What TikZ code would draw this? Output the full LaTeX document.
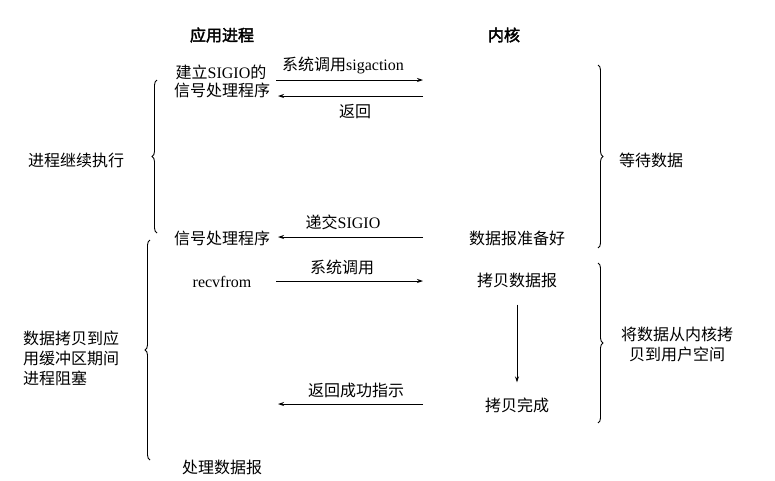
\documentclass[tikz,border=0pt]{standalone}
\usepackage{fontspec}
\setmainfont{Noto Sans CJK SC}[AutoFakeBold=2.5]
\newfontfamily\lat{Liberation Serif}
\usetikzlibrary{arrows.meta,decorations.pathreplacing}

\begin{document}
\begin{tikzpicture}[x=1pt,y=-1pt,
    every node/.style={font=\fontsize{16}{20}\selectfont,inner sep=0pt},
    arr/.style={line width=0.8pt,-{Stealth[length=6pt,width=4pt]}},
    brc/.style={line width=0.9pt,decorate,decoration={brace,amplitude=5pt}}]
    \useasboundingbox (0,0) rectangle (775,480);
    \node[font=\fontsize{16}{20}\selectfont\bfseries] (app) at (222,35) {应用进程};
    \node[font=\fontsize{16}{20}\selectfont\bfseries] (kern) at (504,35) {内核};
    \node (setup) at (221,72) {建立{\lat SIGIO}的};
    \node (handler) at (222,90) {信号处理程序};
    \node (sig) at (222,238) {信号处理程序};
    \node (ready) at (517,238) {数据报准备好};
    \node (recv) at (222,282) {\lat recvfrom};
    \node (copy) at (517,280) {拷贝数据报};
    \node (done) at (517,405) {拷贝完成};
    \node (proc) at (222,467) {处理数据报};
    \node (cont) at (76,160) {进程继续执行};
    \node (wait) at (651,160) {等待数据};
    \node[anchor=west,align=left] (block) at (23,358) {数据拷贝到应\\用缓冲区期间\\进程阻塞};
    \node[align=center] (move) at (677,344) {将数据从内核拷\\贝到用户空间};
    \coordinate (call_1) at (276,80);
    \coordinate (call_2) at (423,80);
    \coordinate (ret_1) at (423,96);
    \coordinate (ret_2) at (278,96);
    \coordinate (sigio_1) at (423,237);
    \coordinate (sigio_2) at (278,237);
    \coordinate (recv_1) at (276,281);
    \coordinate (recv_2) at (423,281);
    \coordinate (ok_1) at (423,404);
    \coordinate (ok_2) at (278,404);
    \draw[arr] (call_1) -- (call_2);
    \draw[arr] (ret_1) -- (ret_2);
    \draw[arr] (sigio_1) -- (sigio_2);
    \draw[arr] (recv_1) -- (recv_2);
    \draw[arr] (ok_1) -- (ok_2);
    \draw[arr] ([yshift=-17pt]copy.south) -- ([yshift=15pt]done.north);
    \node at (343,65) {系统调用{\lat sigaction}};
    \node at (355,112) {返回};
    \node at (343,222) {递交{\lat SIGIO}};
    \node at (342,267) {系统调用};
    \node at (356,390) {返回成功指示};
    \draw[brc] (157,233) -- (157,80);
    \draw[brc] (150,460) -- (150,240);
    \draw[brc] (598,65) -- (598,248);
    \draw[brc] (598,263) -- (598,423);
\end{tikzpicture}
\end{document}
